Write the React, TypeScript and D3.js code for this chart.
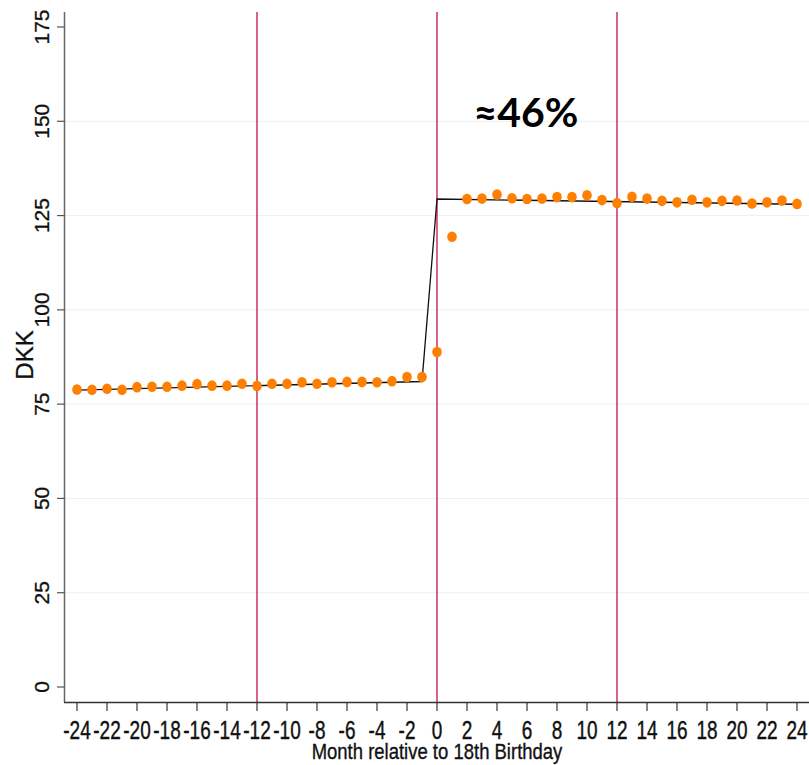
import React from "react";
import * as d3 from "d3";

const months: number[] = [
  -24, -23, -22, -21, -20, -19, -18, -17, -16, -15, -14, -13, -12, -11, -10, -9, -8, -7, -6, -5, -4, -3, -2, -1, 0,
  1, 2, 3, 4, 5, 6, 7, 8, 9, 10, 11, 12, 13, 14, 15, 16, 17, 18, 19, 20, 21, 22, 23, 24,
];
const values: number[] = [
  78.9, 78.8, 79.1, 78.8, 79.5, 79.6, 79.6, 79.9, 80.3, 79.9, 79.9, 80.4, 79.8, 80.4, 80.4, 80.8, 80.4, 80.8, 80.9, 80.9, 80.8, 81.1, 82.2, 82.2, 88.8,
  119.4, 129.4, 129.5, 130.6, 129.6, 129.4, 129.5, 129.9, 129.9, 130.4, 129.1, 128.3, 130.0, 129.5, 128.9, 128.5, 129.2, 128.5, 128.9, 129.0, 128.2, 128.5, 129.0, 128.1,
];
const fitMonths: number[] = [-24, -1, 0, 24];
const fitValues: number[] = [78.7, 81.0, 129.4, 128.0];
const xTicks: number[] = [-24, -22, -20, -18, -16, -14, -12, -10, -8, -6, -4, -2, 0, 2, 4, 6, 8, 10, 12, 14, 16, 18, 20, 22, 24];
const yTicks: number[] = [0, 25, 50, 75, 100, 125, 150, 175];
const gridTicks: number[] = [25, 50, 75, 100, 125, 150];
const refLines: number[] = [-12, 0, 12];
const annotation = "≈46%";
const xTitle = "Month relative to 18th Birthday";
const yTitle = "DKK";

export default function App() {
  const W = 809;
  const H = 765;
  const x = d3.scaleLinear().domain([-24, 24]).range([77, 797]);
  const y = d3.scaleLinear().domain([0, 175]).range([687, 27]);
  const axisX = 64.5;
  const axisY = 702.5;
  const top = 12;
  const font = "'Liberation Sans', Arial, sans-serif";
  const line = d3
    .line<number>()
    .x((_, i) => x(fitMonths[i]))
    .y((d) => y(d));
  return (
    <svg
      width={W}
      height={H}
      style={{ position: "absolute", left: 0, top: 0, background: "#fff" }}
    >
      <rect x={0} y={0} width={W} height={H} fill="#fff" />
      {gridTicks.map((t) => (
        <line key={"g" + t} x1={axisX} x2={W} y1={y(t)} y2={y(t)} stroke="#eceff4" strokeWidth={1} />
      ))}
      {refLines.map((m) => (
        <line key={"r" + m} x1={x(m)} x2={x(m)} y1={top} y2={axisY} stroke="#c8234f" strokeWidth={1.4} />
      ))}
      <path d={line(fitValues) || ""} fill="none" stroke="#111" strokeWidth={1.3} />
      {values.map((v, i) => (
        <ellipse key={"p" + i} cx={x(months[i])} cy={y(v)} rx={4.8} ry={5.3} fill="#ff8000" />
      ))}
      {/* y axis */}
      <line x1={axisX} x2={axisX} y1={top} y2={axisY} stroke="#666" strokeWidth={1.5} />
      {yTicks.map((t) => (
        <g key={"y" + t}>
          <line x1={57} x2={axisX} y1={y(t)} y2={y(t)} stroke="#555" strokeWidth={1.2} />
          <text
            transform={`translate(49,${y(t)}) rotate(-90)`}
            textAnchor="middle"
            fontFamily={font}
            fontSize={21}
            fill="#111"
            stroke="#111"
            strokeWidth={0.3}
          >
            {t}
          </text>
        </g>
      ))}
      {/* x axis */}
      <line x1={axisX - 0.5} x2={W} y1={axisY} y2={axisY} stroke="#333" strokeWidth={1.5} />
      {xTicks.map((t) => (
        <g key={"x" + t}>
          <line x1={x(t)} x2={x(t)} y1={axisY} y2={711} stroke="#333" strokeWidth={1.2} />
          <text
            transform={`translate(${x(t)},739) scale(0.76,1)`}
            textAnchor="middle"
            fontFamily={font}
            fontSize={25}
            fill="#111"
            stroke="#111"
            strokeWidth={0.4}
          >
            {t}
          </text>
        </g>
      ))}
      <text
        transform={`translate(${x(0)},759) scale(0.86,1)`}
        textAnchor="middle"
        fontFamily={font}
        fontSize={21.5}
        fill="#111"
        stroke="#111"
        strokeWidth={0.35}
      >
        {xTitle}
      </text>
      <text
        transform={`translate(33,355) rotate(-90)`}
        textAnchor="middle"
        fontFamily={font}
        fontSize={24}
        fill="#111"
        stroke="#111"
        strokeWidth={0.3}
      >
        {yTitle}
      </text>
      <text
        x={526}
        y={127}
        textAnchor="middle"
        fontFamily="Lato, 'Open Sans', sans-serif"
        fontWeight="bold"
        fontSize={41}
        fill="#000"
      >
        {annotation}
      </text>
    </svg>
  );
}
